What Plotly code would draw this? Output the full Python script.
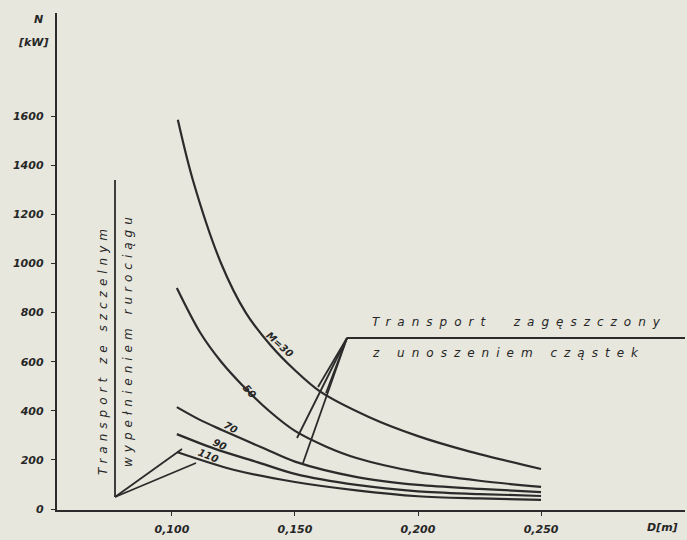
import plotly.graph_objects as go

# ---------------- data ----------------
D_30 = [0.1024, 0.1085, 0.120, 0.130, 0.140, 0.150, 0.160, 0.180, 0.200, 0.220, 0.250]
N_30 = [1585, 1340, 1000, 800, 668, 565, 480, 375, 297, 237, 163]

D_50 = [0.102, 0.1114, 0.120, 0.130, 0.140, 0.150, 0.1625, 0.175, 0.200, 0.225, 0.250]
N_50 = [900, 720, 600, 490, 395, 318, 255, 208, 150, 115, 90]

D_70 = [0.102, 0.1114, 0.1203, 0.1378, 0.150, 0.1752, 0.200, 0.225, 0.250]
N_70 = [415, 363, 322, 245, 193, 130, 98, 82, 69]

D_90 = [0.102, 0.1175, 0.135, 0.150, 0.175, 0.200, 0.225, 0.250]
N_90 = [305, 245, 190, 143, 98, 72, 61, 53]

D_110 = [0.102, 0.125, 0.150, 0.175, 0.200, 0.225, 0.250]
N_110 = [232, 160, 110, 76, 52, 43, 37]

series_labels = ["M=30", "50", "70", "90", "110"]

y_tickvals = [0, 200, 400, 600, 800, 1000, 1200, 1400, 1600]
x_tickvals = [0.100, 0.150, 0.200, 0.250]
x_ticktext = ["0,100", "0,150", "0,200", "0,250"]

# ---------------- layout geometry ----------------
W, H = 687, 540
ML, MR, MT, MB = 57, 2, 13, 30
X0, X1 = 0.0533, 0.3085
Y0, Y1 = -4, 2020
INK = "#2b2b2b"
BG = "#e7e7dd"


def p2d(x, y):
    """pixel position -> data coordinates (for layout decorations)"""
    return (X0 + (x - ML) / (W - ML - MR) * (X1 - X0),
            Y0 + (H - MB - y) / (H - MT - MB) * (Y1 - Y0))


def p2paper(x, y):
    return ((x - ML) / (W - ML - MR), (H - MB - y) / (H - MT - MB))


fig = go.Figure()
for D, N in [(D_30, N_30), (D_50, N_50), (D_70, N_70), (D_90, N_90), (D_110, N_110)]:
    fig.add_trace(go.Scatter(
        x=D, y=N, mode="lines",
        line=dict(color=INK, width=2.2, shape="spline", smoothing=0.9),
        hoverinfo="skip", showlegend=False))

tick_font = dict(family="DejaVu Sans", size=11, color="#262626", weight="bold", style="italic")
label_font = dict(family="DejaVu Sans", size=10, color="#262626", weight="bold", style="italic")
note_font = dict(family="DejaVu Sans", size=12, color="#262626", style="italic")

annotations = []
# curve labels: (px x, px y, angle)
curve_label_pos = [(280, 344, 42), (250, 391, 48), (231, 427, 28), (220, 444, 24), (208, 455, 22)]
for txt, (px, py, ang) in zip(series_labels, curve_label_pos):
    x, y = p2d(px, py)
    annotations.append(dict(x=x, y=y, xref="x", yref="y", text=txt, showarrow=False,
                            textangle=ang, font=label_font, xanchor="center", yanchor="middle"))

# axis titles (paper coords so they can sit outside the plot)
for txt, px, py in [("N", 38, 20), ("[kW]", 33, 42), ("D[m]", 662, 527)]:
    x, y = p2paper(px, py)
    annotations.append(dict(x=x, y=y, xref="paper", yref="paper", text=txt, showarrow=False,
                            font=tick_font, xanchor="center", yanchor="middle"))

# right note
sp = '<span style="letter-spacing:7px">%s</span>'
for txt, py in [("Transport  zagęszczony", 322), ("z unoszeniem cząstek", 353)]:
    x, y = p2d(370, py)
    annotations.append(dict(x=x, y=y, xref="x", yref="y", text=sp % txt, showarrow=False,
                            font=note_font, xanchor="left", yanchor="middle"))

# left vertical note
sp2 = '<span style="letter-spacing:5px">%s</span>'
for txt, px, py in [("Transport ze szczelnym", 103, 350), ("wypełnieniem rurociągu", 128, 340)]:
    x, y = p2d(px, py)
    annotations.append(dict(x=x, y=y, xref="x", yref="y", text=sp2 % txt, showarrow=False,
                            textangle=-90, font=note_font, xanchor="center", yanchor="middle"))

# leader lines (pixel endpoints)
segments = [
    ((347, 338), (686, 338)),
    ((347, 338), (297, 438)),
    ((347, 338), (303, 463)),
    ((347, 338), (318, 387)),
    ((347, 338), (326, 393)),
    ((115, 180), (115, 497)),
    ((115, 497), (182, 449)),
    ((115, 497), (196, 463)),
]
shapes = []
for (ax, ay), (bx, by) in segments:
    x0, y0 = p2d(ax, ay)
    x1, y1 = p2d(bx, by)
    shapes.append(dict(type="line", xref="x", yref="y", x0=x0, y0=y0, x1=x1, y1=y1,
                       line=dict(color=INK, width=1.8)))

fig.update_layout(
    width=W, height=H,
    margin=dict(l=ML, r=MR, t=MT, b=MB, autoexpand=False),
    paper_bgcolor=BG, plot_bgcolor=BG,
    annotations=annotations, shapes=shapes,
    xaxis=dict(range=[X0, X1], tickvals=x_tickvals, ticktext=x_ticktext,
               showgrid=False, zeroline=False, showline=True, linecolor=INK, linewidth=2.4,
               ticks="outside", ticklen=4, tickcolor=INK, tickfont=tick_font,
               ticklabelstandoff=4, automargin=False),
    yaxis=dict(range=[Y0, Y1], tickvals=y_tickvals,
               showgrid=False, zeroline=False, showline=True, linecolor=INK, linewidth=2.4,
               ticks="outside", ticklen=4, tickcolor=INK, tickfont=tick_font,
               ticklabelstandoff=5, automargin=False),
)

fig.write_html("out.html", config={"displayModeBar": False},
               post_script="document.body.style.margin='0';document.body.style.background='%s';" % BG)
